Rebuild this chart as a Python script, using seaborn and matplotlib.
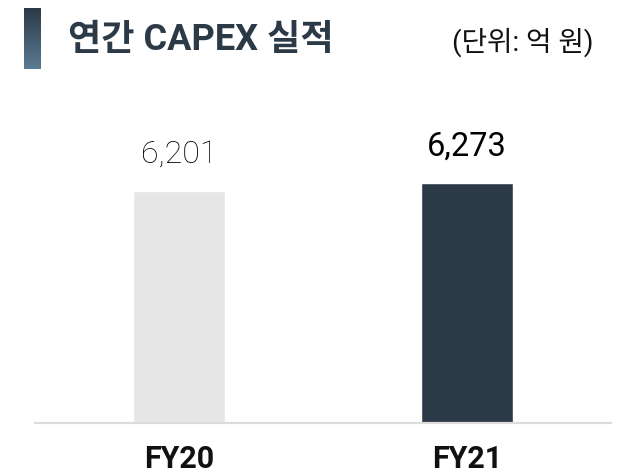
import numpy as np
import matplotlib
matplotlib.use("Agg")
import matplotlib.pyplot as plt
import seaborn as sns
from matplotlib.colors import LinearSegmentedColormap

categories = ["FY20", "FY21"]
values = [6201, 6273]
value_labels = ["6,201", "6,273"]
bar_colors = ["#e6e6e6", "#2c3a47"]

title_text = "연간 CAPEX 실적"
unit_text = "(단위: 억 원)"

sns.set_theme(style="white")
FAM = ["Roboto", "Noto Sans CJK KR", "DejaVu Sans"]
plt.rcParams["font.family"] = FAM

W, H = 618, 475
fig = plt.figure(figsize=(W / 100, H / 100), dpi=100)
fig.patch.set_facecolor("white")

# axes placement in pixels
ax_left, ax_right, ax_bottom, ax_top = 35, 611, 423, 100
ax = fig.add_axes([ax_left / W, (H - ax_bottom) / H,
                   (ax_right - ax_left) / W, (ax_bottom - ax_top) / H])

sns.barplot(x=categories, y=values, hue=categories, palette=bar_colors,
            width=0.316, legend=False, ax=ax, saturation=1)

ax.set_xlim(-0.5, 1.5)
ax.set_ylim(4113, 7020)
ax.set_yticks([])
ax.set_xlabel("")
ax.set_ylabel("")
for s in ["top", "left", "right"]:
    ax.spines[s].set_visible(False)
ax.spines["bottom"].set_color("#dcdcdc")
ax.spines["bottom"].set_linewidth(1.6)
ax.tick_params(axis="x", length=0, pad=15)
for t in ax.get_xticklabels():
    t.set_fontsize(22)
    t.set_fontweight("bold")
    t.set_color("#111111")
    t.set_family(FAM)

label_styles = [
    dict(weight="light", color="#000000", size=23, off=20.7),
    dict(weight="normal", color="#000000", size=23.5, off=19.4),
]
for i, (v, lab) in enumerate(zip(values, value_labels)):
    st = label_styles[i]
    ax.annotate(lab, xy=(i, v), xytext=(0, st["off"]), textcoords="offset points",
                ha="center", va="baseline", fontsize=st["size"],
                fontweight=st["weight"], color=st["color"], family=FAM)

# title accent bar with vertical gradient
bax = fig.add_axes([24 / W, (H - 69) / H, 17 / W, 61 / H])
grad = np.linspace(0, 1, 256).reshape(-1, 1)
cmap = LinearSegmentedColormap.from_list("g", ["#2c3a47", "#5a7b94"])
bax.imshow(grad, aspect="auto", cmap=cmap, extent=[0, 1, 0, 1], origin="upper")
bax.axis("off")

fig.text(68 / W, 1 - 40 / H, title_text, fontsize=26, fontweight="bold",
         color="#2c3a47", va="center", ha="left", family=FAM)
fig.text(593 / W, 1 - 42 / H, unit_text, fontsize=20, color="#111111",
         va="center", ha="right", family=FAM)

fig.savefig("out.png", dpi=100, facecolor="white")
